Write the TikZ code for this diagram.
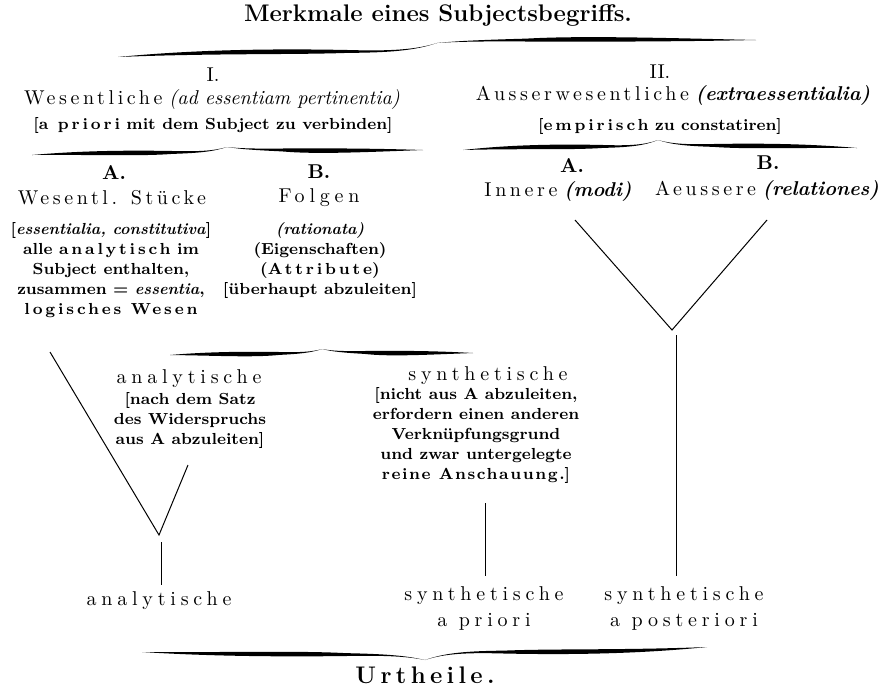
\documentclass[tikz,border=0pt]{standalone}
\usepackage{fontspec}
\setmainfont{Latin Modern Roman}
\usepackage{tikz}
\usetikzlibrary{calc}

\newcommand{\sperr}[2][18]{{\addfontfeature{LetterSpace=#1}#2}}  % gesperrt

% halbe geschweifte Klammer: Ende (#1,#2), Spitze (#3,#4)
\newcommand{\klammerhalb}[4]{%
  \pgfmathsetmacro\kdx{#3-#1}%
  \pgfmathsetmacro\kdy{#4-#2}%
  \pgfmathsetmacro\kt{-2.4*sign(\kdy)}%
  \fill ({#1},{#2})
     .. controls ({#1+0.25*\kdx},{#2+0.55*\kdy}) and ({#1+0.5*\kdx},{#2+0.6*\kdy}) .. ({#1+0.72*\kdx},{#2+0.5*\kdy})
     .. controls ({#1+0.85*\kdx},{#2+0.42*\kdy}) and ({#1+0.93*\kdx},{#2+0.5*\kdy}) .. ({#3},{#4})
     .. controls ({#1+0.93*\kdx},{#2+0.5*\kdy+0.3*\kt}) and ({#1+0.85*\kdx},{#2+0.42*\kdy+0.6*\kt}) .. ({#1+0.72*\kdx},{#2+0.5*\kdy+1.2*\kt})
     .. controls ({#1+0.55*\kdx},{#2+0.6*\kdy+2.6*\kt}) and ({#1+0.3*\kdx},{#2+0.55*\kdy+1.6*\kt}) .. ({#1},{#2}) -- cycle;}
\newcommand{\klammer}[6]{\klammerhalb{#1}{#2}{#3}{#4}\klammerhalb{#5}{#6}{#3}{#4}}

\begin{document}
\begin{tikzpicture}[x=0.5pt, y=-0.5pt,
    titel/.style={font=\fontsize{12}{14}\selectfont\bfseries, inner sep=0pt},
    glied/.style={font=\fontsize{10}{13}\selectfont, inner sep=0pt},
    nummer/.style={font=\fontsize{10}{12}\selectfont\bfseries, inner sep=0pt},
    notiz/.style={font=\fontsize{8}{10}\selectfont\bfseries, align=center, inner sep=0pt},
    ast/.style={line width=0.5pt}]
\useasboundingbox (0,0) rectangle (887,687);

% Kopf
\node[titel] (titel) at (438,16) {Merkmale eines Subjectsbegriffs.};
\klammer{118}{57}{437}{43}{756}{40}

% I. Wesentliche
\node[glied] (I) at (213,75) {I.};
\node[glied] (wes) at (212,99) {\sperr{Wesentliche} \textit{(ad essentiam pertinentia)}};
\node[notiz] (wesnotiz) at (213,125) {[\sperr{a priori} mit dem Subject zu verbinden]};
\klammer{32}{155}{227}{147}{423}{150}
\node[nummer] (IA) at (114,173) {A.};
\node[nummer] (IB) at (319,172) {B.};
\node[glied] (stuecke) at (112,198) {\sperr{Wesentl. Stücke}};
\node[glied] (folgen) at (319,198) {\sperr[24]{Folgen}};
\node[notiz] (stueckenotiz) at (111,270) {[\textit{essentialia, constitutiva}]\\ alle \sperr{analytisch} im\\ Subject enthalten,\\ zusammen = \textit{essentia},\\ \sperr{logisches Wesen}};
\node[notiz] (folgennotiz) at (320,260) {\textit{(rationata)}\\ (Eigenschaften)\\ (\sperr{Attribute})\\ {[}überhaupt abzuleiten]};

% II. Ausserwesentliche
\node[glied] (II) at (660,72) {II.};
\node[glied] (ausser) at (673,95) {\sperr{Ausserwesentliche} \textit{\bfseries (extraessentialia)}};
\node[notiz] (ausnotiz) at (660,126) {[\sperr{empirisch} zu constatiren]};
\klammer{463}{150}{658}{140}{857}{148}
\node[nummer] (IIA) at (572,166) {A.};
\node[nummer] (IIB) at (768,163) {B.};
\node[glied] (innere) at (558,191) {\sperr{Innere} \textit{\bfseries (modi)}};
\node[glied] (aeussere) at (767,190) {\sperr{Aeussere} \textit{\bfseries (relationes)}};

% Folgen: analytisch / synthetisch
\klammer{170}{355}{322}{349}{473}{353}
\node[glied] (analyt) at (189,379) {\sperr[24]{analytische}};
\node[notiz] (analytnotiz) at (190,420) {[nach dem Satz\\ des Widerspruchs\\ aus A abzuleiten]};
\node[glied] (synth) at (488,376) {\sperr[24]{synthetische}};
\node[notiz] (synthnotiz) at (476,435) {[nicht aus A abzuleiten,\\ erfordern einen anderen\\ Verknüpfungsgrund\\ und zwar untergelegte\\ \sperr[10]{reine Anschauung.}]};

% Urtheile
\node[glied] (urteilA) at (159,601) {\sperr[24]{analytische}};
\node[glied, align=center] (urteilB) at (484,608) {\sperr[24]{synthetische}\\ \sperr[24]{a priori}};
\node[glied, align=center] (urteilC) at (684,608) {\sperr[24]{synthetische}\\ \sperr[24]{a posteriori}};
\klammer{142}{652}{425}{660}{707}{647}
\node[titel] (urtheile) at (425,675) {\sperr{Urtheile.}};

% Verbindungslinien
\coordinate (va1) at (50,352);
\coordinate (va2) at (188,465);
\coordinate (vaspitze) at (159,535);
\coordinate (vafuss) at (161,542);
\coordinate (vsfuss) at (485,503);
\coordinate (vi1) at (575,220);
\coordinate (vi2) at (767,220);
\coordinate (vispitze) at (672,330);
\coordinate (vifuss) at (676,335);
\draw[ast] (va1) -- (vaspitze) -- (va2);
\draw[ast, shorten >=3.5pt] (vafuss) -- (vafuss |- urteilA.north);
\draw[ast, shorten >=5pt] (vsfuss) -- (vsfuss |- urteilB.north);
\draw[ast] (vi1) -- (vispitze) -- (vi2);
\draw[ast, shorten >=5pt] (vifuss) -- (vifuss |- urteilC.north);
\end{tikzpicture}
\end{document}
